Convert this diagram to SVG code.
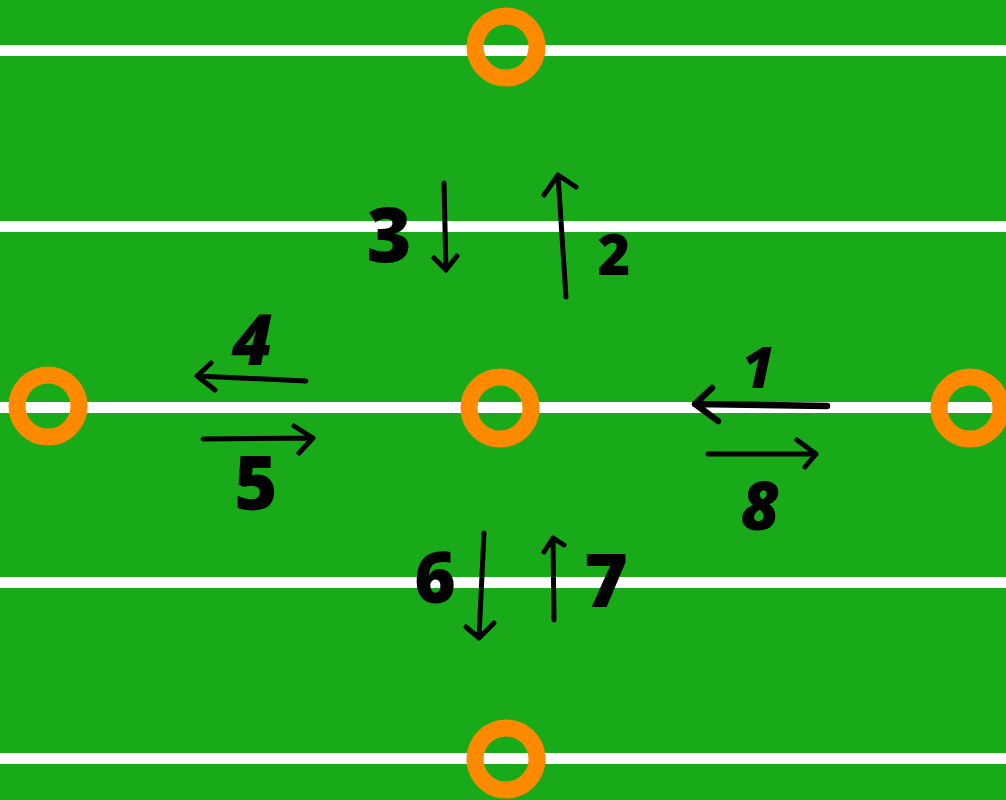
<svg xmlns="http://www.w3.org/2000/svg" width="1006" height="800" viewBox="0 0 1006 800">
  <style>
    .field { fill: #19aa1a; }
    .yard { fill: #ffffff; }
    .cone { fill: none; stroke: #ff8a00; stroke-width: 17; }
    .arrow { fill: none; stroke: #000; stroke-width: 5; stroke-linecap: round; stroke-linejoin: round; }
    .heavy { stroke-width: 6.5; }
    .num { font-family: "Open Sans", "DejaVu Sans", sans-serif; font-weight: 800; fill: #000; text-anchor: middle; }
    .it { font-style: italic; }
  </style>

  <!-- pitch and yard lines -->
  <rect class="field" x="0" y="0" width="1006" height="800"/>
  <g id="yard-lines">
    <rect class="yard" x="0" y="45" width="1006" height="11"/>
    <rect class="yard" x="0" y="221" width="1006" height="11"/>
    <rect class="yard" x="0" y="402" width="1006" height="11"/>
    <rect class="yard" x="0" y="577" width="1006" height="11"/>
    <rect class="yard" x="0" y="753" width="1006" height="11"/>
  </g>

  <!-- cones -->
  <g id="cone-top"><circle class="cone" cx="506" cy="47" r="31"/></g>
  <g id="cone-left"><circle class="cone" cx="48" cy="406" r="31"/></g>
  <g id="cone-center"><circle class="cone" cx="500" cy="408" r="31"/></g>
  <g id="cone-right"><circle class="cone" cx="970" cy="408" r="31"/></g>
  <g id="cone-bottom"><circle class="cone" cx="506" cy="759" r="31"/></g>

  <!-- running order arrows -->
  <g id="connectors">
    <path class="arrow heavy" d="M827 406 L695 404 M712 388 L695 404 L718 421"/>
    <path class="arrow" d="M566 297 L558 175 M544 195 L558 175 L576 187"/>
    <path class="arrow" d="M444 183 L446 270 M434 258 L446 270 L457 256"/>
    <path class="arrow" d="M306 381 L197 376 M211 363 L197 376 L215 390"/>
    <path class="arrow" d="M203 439 L313 438 M294 426 L313 438 L299 453"/>
    <path class="arrow" d="M484 533 L479 638 M466 627 L479 638 L494 623"/>
    <path class="arrow" d="M554 620 L553 538 M544 552 L553 538 L564 545"/>
    <path class="arrow" d="M708 454 L816 454 M797 440 L816 454 L805 467"/>
  </g>

  <!-- step numbers -->
  <g id="label-1"><text class="num it" x="758" y="388" font-size="57">1</text></g>
  <g id="label-2"><text class="num" x="614" y="275" font-size="56">2</text></g>
  <g id="label-3"><text class="num" x="389" y="262" font-size="77">3</text></g>
  <g id="label-4"><text class="num it" x="252" y="365" font-size="70">4</text></g>
  <g id="label-5"><text class="num" x="256" y="510" font-size="74">5</text></g>
  <g id="label-6"><text class="num" x="435" y="603" font-size="71">6</text></g>
  <g id="label-7"><text class="num" x="606" y="607" font-size="75">7</text></g>
  <g id="label-8"><text class="num it" x="760" y="530" font-size="67">8</text></g>
</svg>
